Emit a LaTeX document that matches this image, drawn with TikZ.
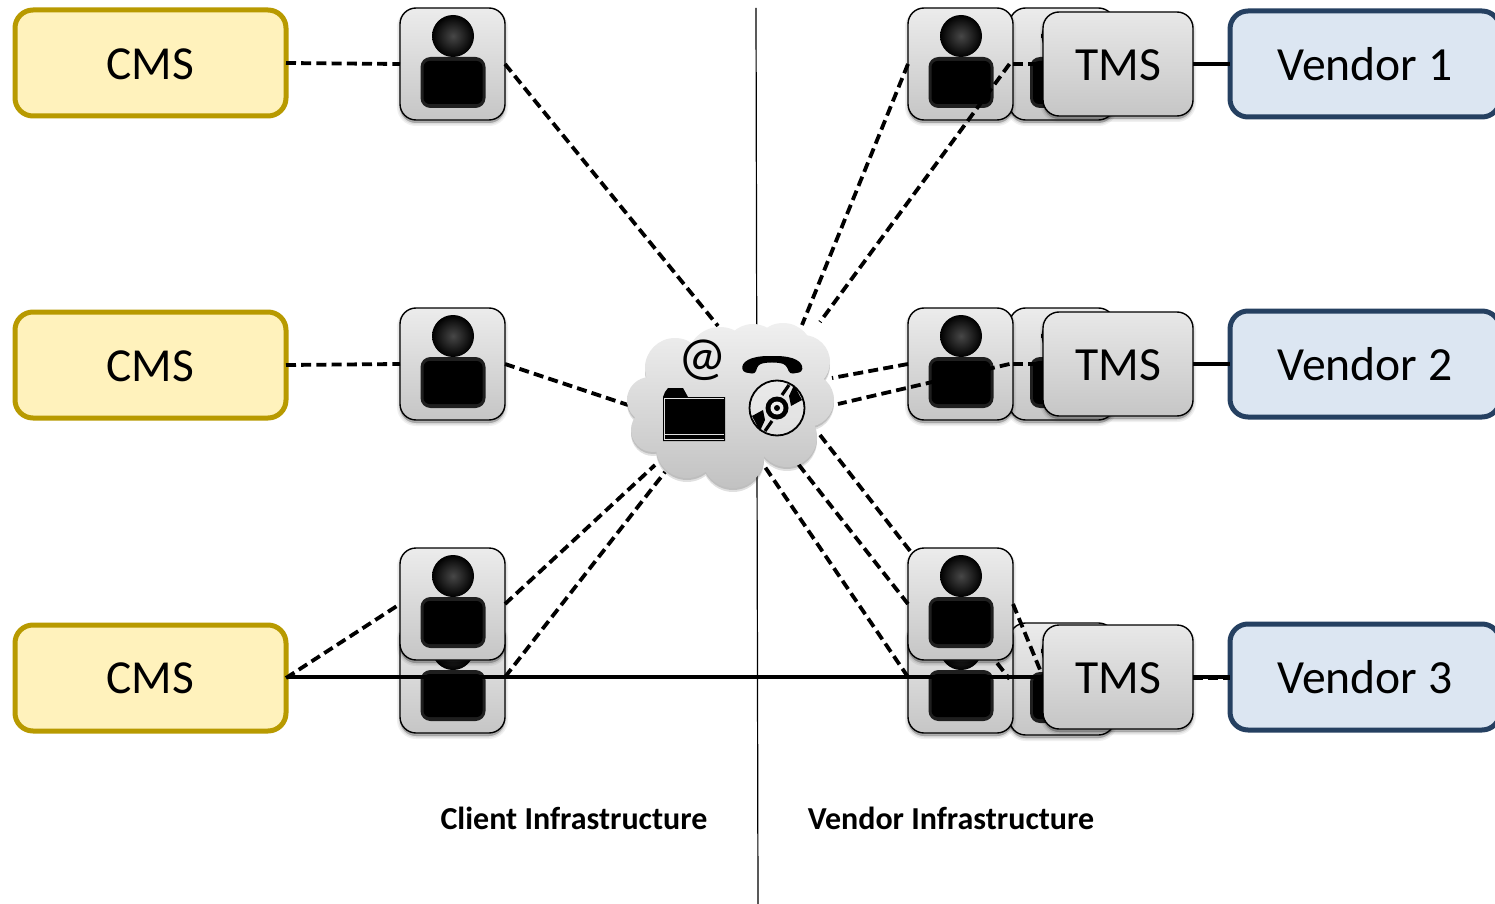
\documentclass[tikz,border=0pt]{standalone}
\usepackage{fontspec}
\setmainfont{Carlito}
\usetikzlibrary{shadows}
\definecolor{cmsfill}{HTML}{FFF2BC}
\definecolor{cmsline}{HTML}{B89A00}
\definecolor{venfill}{HTML}{DCE6F2}
\definecolor{venline}{HTML}{254061}
\newcommand{\lowtext}[1]{\raisebox{-.5pt}[\height][0pt]{#1}}
\tikzset{
  softshadow/.style={
    general shadow={shadow xshift=0pt,shadow yshift=-1.5pt,fill=black,opacity=.06,draw=black,line width=3pt},
    general shadow={shadow xshift=0pt,shadow yshift=-1.5pt,fill=black,opacity=.08,draw=black,line width=1.5pt},
    general shadow={shadow xshift=0pt,shadow yshift=-1.5pt,fill=black,opacity=.12}},
  cmsbox/.style={draw=cmsline,line width=2.5pt,fill=cmsfill,rounded corners=9pt,minimum width=135.5pt,minimum height=53pt,font=\fontsize{23.7}{26}\selectfont,outer sep=0pt},
  venbox/.style={draw=venline,line width=2.5pt,fill=venfill,rounded corners=9pt,minimum width=135pt,minimum height=53pt,font=\fontsize{23.8}{26}\selectfont,outer sep=0pt},
  tmsbox/.style={softshadow,draw=black,line width=.7pt,top color=gray!18,bottom color=gray!45,rounded corners=8pt,minimum width=75pt,minimum height=52pt,font=\fontsize{23.8}{26}\selectfont,outer sep=0pt},
  personbox/.style={softshadow,draw=black,line width=.7pt,top color=gray!15,bottom color=gray!45,rounded corners=8pt,minimum width=52.5pt,minimum height=56pt,inner sep=0pt,outer sep=0pt},
  dashline/.style={line width=1.9pt,dash pattern=on 5pt off 2.6pt,black},
  solidline/.style={line width=1.8pt,black},
  axis/.style={line width=.6pt,black},
  caption/.style={font=\fontsize{16}{18}\selectfont\bfseries}
}
\newcommand{\person}[3]{%
  \node[personbox] (#1) at (#2,#3) {};
  \begin{scope}[shift={(#2,#3)}]
    \shade[inner color=black!72,outer color=black] (0.5,-28) circle (21);
    \fill[black!88,rounded corners=5pt] (-32,-7) rectangle (33,44);
    \fill[black,rounded corners=3pt] (-29,-3) rectangle (30,40);
  \end{scope}}
\newcommand{\cloudpath}{%
  (675,368) circle (30) (720,360) circle (33) (753,353) circle (29) (783,353) circle (30)
  (803,362) circle (27) (807,400) circle (27) (787,437) circle (30) (733,457) circle (31)
  (687,447) circle (31) (653,430) circle (22) (650,400) circle (23) (730,400) circle (62)}
\begin{document}
\begin{tikzpicture}[x=.5pt,y=-.5pt]
\clip (0,0) rectangle (1495,904);
\fill[white] (0,0) rectangle (1495,904);
% named cloud contact points
\coordinate (cA) at (718,326);
\coordinate (cB) at (628,405);
\coordinate (cC) at (655,465);
\coordinate (cD) at (665,472);
\coordinate (cE) at (802,325);
\coordinate (cF) at (820,322);
\coordinate (cG) at (832,378);
\coordinate (cH) at (838,404);
\coordinate (cI) at (820,435);
\coordinate (cJ) at (795,460);
\coordinate (cK) at (765,467);
\coordinate (axT) at (756,8);
\coordinate (axB) at (758,904);
\coordinate (solidL) at (287,677);
\coordinate (solidR) at (1100,677);
\coordinate (tmsOut) at (1193,678.5);
\coordinate (venIn) at (1230,678.5);
\draw[axis] (axT) -- (axB);
% boxes
\node[cmsbox] (cms1) at (150.5,63) {\lowtext{CMS}};
\node[cmsbox] (cms2) at (150.5,365) {\lowtext{CMS}};
\node[cmsbox] (cms3) at (150.5,678) {CMS};
\node[venbox] (ven1) at (1365,64) {Vendor 1};
\node[venbox] (ven2) at (1365,364) {Vendor 2};
\node[venbox] (ven3) at (1365,677) {Vendor 3};
% back persons
\person{pc}{452.5}{677}
\person{ra}{1062}{64}
\person{rb}{1062}{364}
\person{rc}{1062}{679}
\person{qd}{960.5}{677}
% behind-front lines
\draw[dashline] (cI) -- (rc.west);
\draw[solidline] (solidL) -- (solidR);
% front persons
\person{pa}{452.5}{64}
\person{pb}{452.5}{364}
\person{pd}{452.5}{604}
\person{qa}{960.5}{64}
\person{qb}{960.5}{364}
\person{qc}{960.5}{604}
% connectors
\draw[dashline] (cms1.east) -- (pa.west);
\draw[dashline] (cms2.east) -- (pb.west);
\draw[dashline] (cms3.east) -- (pd.west);
\draw[dashline] (pa.east) -- (cA);
\draw[dashline] (pb.east) -- (cB);
\draw[dashline] (pd.east) -- (cC);
\draw[dashline] (pc.east) -- (cD);
\draw[dashline] (qa.west) -- (cE);
\draw[dashline] (ra.west) -- (cF);
\draw[dashline] (qb.west) -- (cG);
\draw[dashline] (rb.west) -- (cH);
\draw[dashline] (qc.west) -- (cJ);
\draw[dashline] (qd.west) -- (cK);
\draw[dashline] (qa.east) -- (1043,64);
\draw[dashline] (qb.east) -- (1043,364);
\draw[dashline] (qc.east) -- (1043,677);
% TMS
\node[tmsbox] (tms1) at (1118,64) {\lowtext{TMS}};
\node[tmsbox] (tms2) at (1118,364) {\lowtext{TMS}};
\node[tmsbox] (tms3) at (1118,677) {\lowtext{TMS}};
\draw[solidline] (tms1.east) -- (ven1.west);
\draw[solidline] (tms2.east) -- (ven2.west);
\draw[dashline] (tmsOut) -- (venIn);
\draw[solidline] (tms3.east) -- (ven3.west);
% cloud
\begin{scope}[shift={(0,4)}]
  \fill[black,opacity=.12] \cloudpath;
\end{scope}
\begin{scope}[shift={(0,2)}]
  \fill[black,opacity=.15] \cloudpath;
\end{scope}
\shade[top color=gray!12,bottom color=gray!48] \cloudpath;
% icons
\node[font=\fontsize{27}{29}\selectfont] (at) at (703,360) {@};
\fill[black,rounded corners=1.5pt] (743,372) .. controls (741,362) and (750,356) .. (772,356)
  .. controls (795,356) and (803,362) .. (802,372) -- (790,374) -- (786,365)
  .. controls (778,362) and (766,362) .. (758,365) -- (755,374) -- cycle;
\fill[black] (663,441) -- (663,397) -- (665,392) -- (668,388) -- (683,388) -- (688,397) -- (725,397) -- (725,441) -- cycle;
\draw[gray!25,line width=.4pt] (664,398) -- (724,398) (664,398) -- (664,439) (664,434) -- (724,434) (664,439) -- (724,439);
\begin{scope}[shift={(777,408)}]
  \draw[black,line width=.9pt,fill=white,fill opacity=.35] (0,0) circle (27.5);
  \fill[black] (12,-12) -- (17,-23) -- (25,-8) -- (14,-2) -- cycle;
  \fill[black] (-12,12) -- (-17,23) -- (-25,8) -- (-14,2) -- cycle;
  \draw[black,line width=1.6pt] (5,-13) -- (12,-23) (-5,13) -- (-12,23);
  \fill[black] (0,0) circle (11.5);
  \fill[white!85!gray] (0,0) circle (6.5);
  \fill[black] (0,0) circle (3);
\end{scope}
% captions
\node[caption] (capC) at (574,818) {Client Infrastructure};
\node[caption] (capV) at (951,818) {Vendor Infrastructure};
\end{tikzpicture}
\end{document}
